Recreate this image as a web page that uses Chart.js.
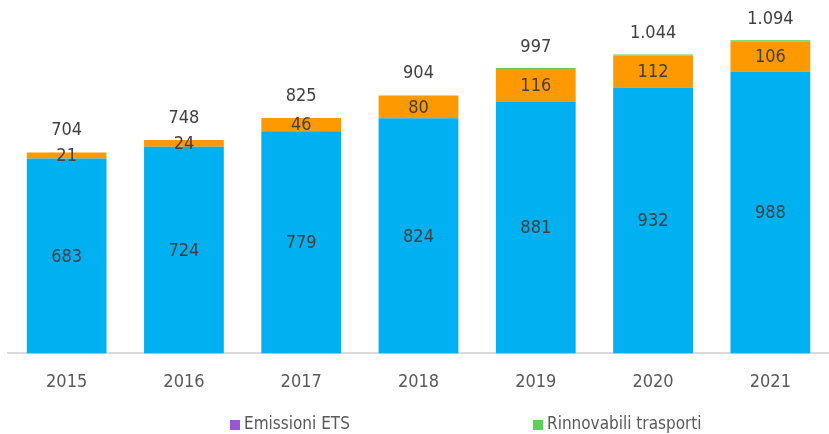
<!DOCTYPE html>
<html>
<head>
<meta charset="utf-8">
<script src="https://cdn.jsdelivr.net/npm/chart.js@4.4.0/dist/chart.umd.min.js"></script>
<style>
  body { margin: 0; background: #fff; }
  #wrap { position: relative; width: 829px; height: 434px; }
  #legenda { position: absolute; top: 413px; left: 0; width: 829px; height: 21px;
    font-family: "DejaVu Sans Condensed", sans-serif; font-size: 17px; color: #595959; }
  #legenda span.item { position: absolute; top: 0; white-space: nowrap; line-height: 21px; }
  #legenda span.box { display: inline-block; width: 10px; height: 10px; margin-right: 4px; vertical-align: -1px; }
</style>
</head>
<body>
<div id="wrap">
  <canvas id="emissioni" width="829" height="434"></canvas>
  <div id="legenda"></div>
</div>
<script>
const anni = ["2015", "2016", "2017", "2018", "2019", "2020", "2021"];
// valori
const base = [683, 724, 779, 824, 881, 932, 988];
const extra = [21, 24, 46, 80, 116, 112, 106];
const emissioniETS = [0, 0, 0, 0, 0, 0, 0];
const rinnovabiliTrasporti = [0, 0, 0, 0, 0.4, 0.4, 0.4];

const FONT = "'DejaVu Sans Condensed', sans-serif";

function formatta(v) {
  return String(Math.round(v)).replace(/\B(?=(\d{3})+(?!\d))/g, ".");
}

// etichette dentro le barre e totali sopra
const etichette = {
  id: "etichette",
  afterDatasetsDraw(chart) {
    const ctx = chart.ctx;
    ctx.save();
    ctx.font = "18px " + FONT;
    ctx.fillStyle = "#404040";
    ctx.textAlign = "center";
    ctx.textBaseline = "middle";
    [0, 1].forEach((d) => {
      chart.getDatasetMeta(d).data.forEach((el, i) => {
        const p = el.getProps(["x", "y", "base"], true);
        ctx.fillText(formatta(chart.data.datasets[d].data[i]), p.x, (p.y + p.base) / 2 + 1);
      });
    });
    // totale in cima alla pila
    chart.getDatasetMeta(1).data.forEach((el, i) => {
      const p = el.getProps(["x", "y"], true);
      const tot = base[i] + extra[i] + emissioniETS[i] + rinnovabiliTrasporti[i];
      ctx.fillText(formatta(tot), p.x, p.y - 22);
    });
    ctx.restore();
  },
};

// legenda html (solo le serie con legenda)
const legendaHtml = {
  id: "legendaHtml",
  afterUpdate(chart) {
    const box = document.getElementById("legenda");
    box.innerHTML = "";
    const posizioni = [230, 533];
    let k = 0;
    chart.data.datasets.forEach((ds) => {
      if (!ds.inLegenda) return;
      const item = document.createElement("span");
      item.className = "item";
      item.style.left = posizioni[k++] + "px";
      const q = document.createElement("span");
      q.className = "box";
      q.style.background = ds.backgroundColor;
      item.appendChild(q);
      item.appendChild(document.createTextNode(ds.label));
      box.appendChild(item);
    });
  },
};

new Chart(document.getElementById("emissioni"), {
  type: "bar",
  data: {
    labels: anni,
    datasets: [
      { label: "Base", data: base, backgroundColor: "#00B0F0", inLegenda: false },
      { label: "Altro", data: extra, backgroundColor: "#FF9900", inLegenda: false },
      { label: "Emissioni ETS", data: emissioniETS.map((v) => v || null), backgroundColor: "#9B57D3", inLegenda: true, minBarLength: 1 },
      { label: "Rinnovabili trasporti", data: rinnovabiliTrasporti.map((v) => v || null), backgroundColor: "#5BD15B", inLegenda: true, minBarLength: 1 },
    ],
  },
  options: {
    responsive: false,
    animation: false,
    categoryPercentage: 1,
    barPercentage: 0.68,
    layout: { padding: { left: 8, right: 0, top: 11, bottom: 31 } },
    plugins: {
      legend: { display: false },
      tooltip: { enabled: false },
    },
    scales: {
      x: {
        stacked: true,
        grid: { display: false },
        border: { display: true, color: "#D9D9D9", width: 2 },
        ticks: { color: "#595959", padding: 10, font: { family: FONT, size: 18 } },
      },
      y: {
        stacked: true,
        display: false,
        min: 0,
        max: 1200,
      },
    },
  },
  plugins: [etichette, legendaHtml],
});
</script>
</body>
</html>
